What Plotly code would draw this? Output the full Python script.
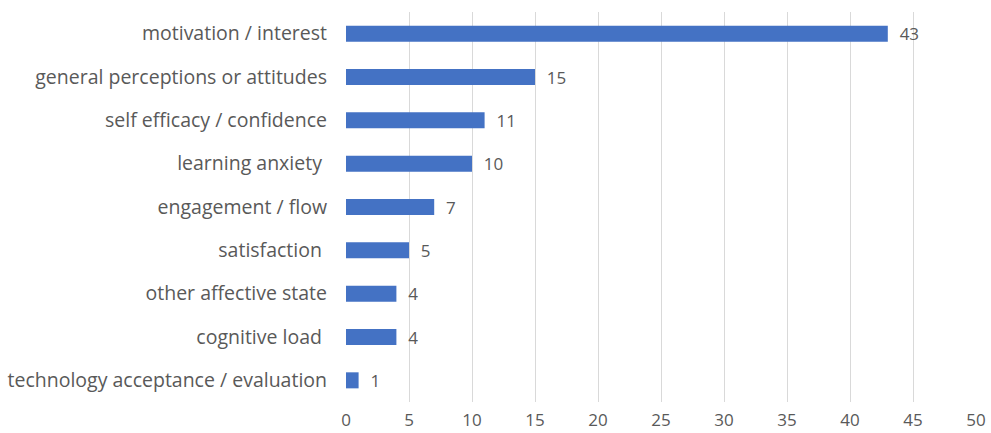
import plotly.graph_objects as go

# Categories listed top to bottom, with their study counts
categories = [
    "motivation / interest",
    "general perceptions or attitudes",
    "self efficacy / confidence",
    "learning anxiety\u00a0",
    "engagement / flow",
    "satisfaction\u00a0",
    "other affective state",
    "cognitive load\u00a0",
    "technology acceptance / evaluation",
]
counts = [43, 15, 11, 10, 7, 5, 4, 4, 1]
x_ticks = [0, 5, 10, 15, 20, 25, 30, 35, 40, 45, 50]

font_family = "Open Sans, Liberation Sans, sans-serif"
grey_text = "#595959"

fig = go.Figure(
    go.Bar(
        x=counts,
        y=categories,
        orientation="h",
        marker=dict(color="#4472C4", line=dict(width=0)),
        texttemplate="\u00a0\u00a0%{x}",
        textposition="outside",
        constraintext="none",
        textfont=dict(family=font_family, size=17, color=grey_text),
        cliponaxis=False,
    )
)

fig.update_layout(
    width=991,
    height=433,
    margin=dict(l=346, r=15, t=12, b=31),
    paper_bgcolor="white",
    plot_bgcolor="white",
    bargap=0.63,
    showlegend=False,
    font=dict(family=font_family, color=grey_text),
)

fig.update_xaxes(
    range=[0, 50],
    tickmode="array",
    tickvals=x_ticks,
    ticktext=[str(t) for t in x_ticks],
    showgrid=True,
    gridcolor="#D9D9D9",
    gridwidth=1,
    zeroline=False,
    showline=False,
    ticks="",
    automargin=False,
    ticklabelstandoff=6,
    tickfont=dict(family=font_family, size=17, color=grey_text),
)

fig.update_yaxes(
    categoryorder="array",
    categoryarray=categories[::-1],
    showgrid=False,
    zeroline=False,
    showline=False,
    ticks="",
    automargin=False,
    ticklabelstandoff=18,
    tickfont=dict(family=font_family, size=19.5, color=grey_text),
)

fig.write_html("out.html")
